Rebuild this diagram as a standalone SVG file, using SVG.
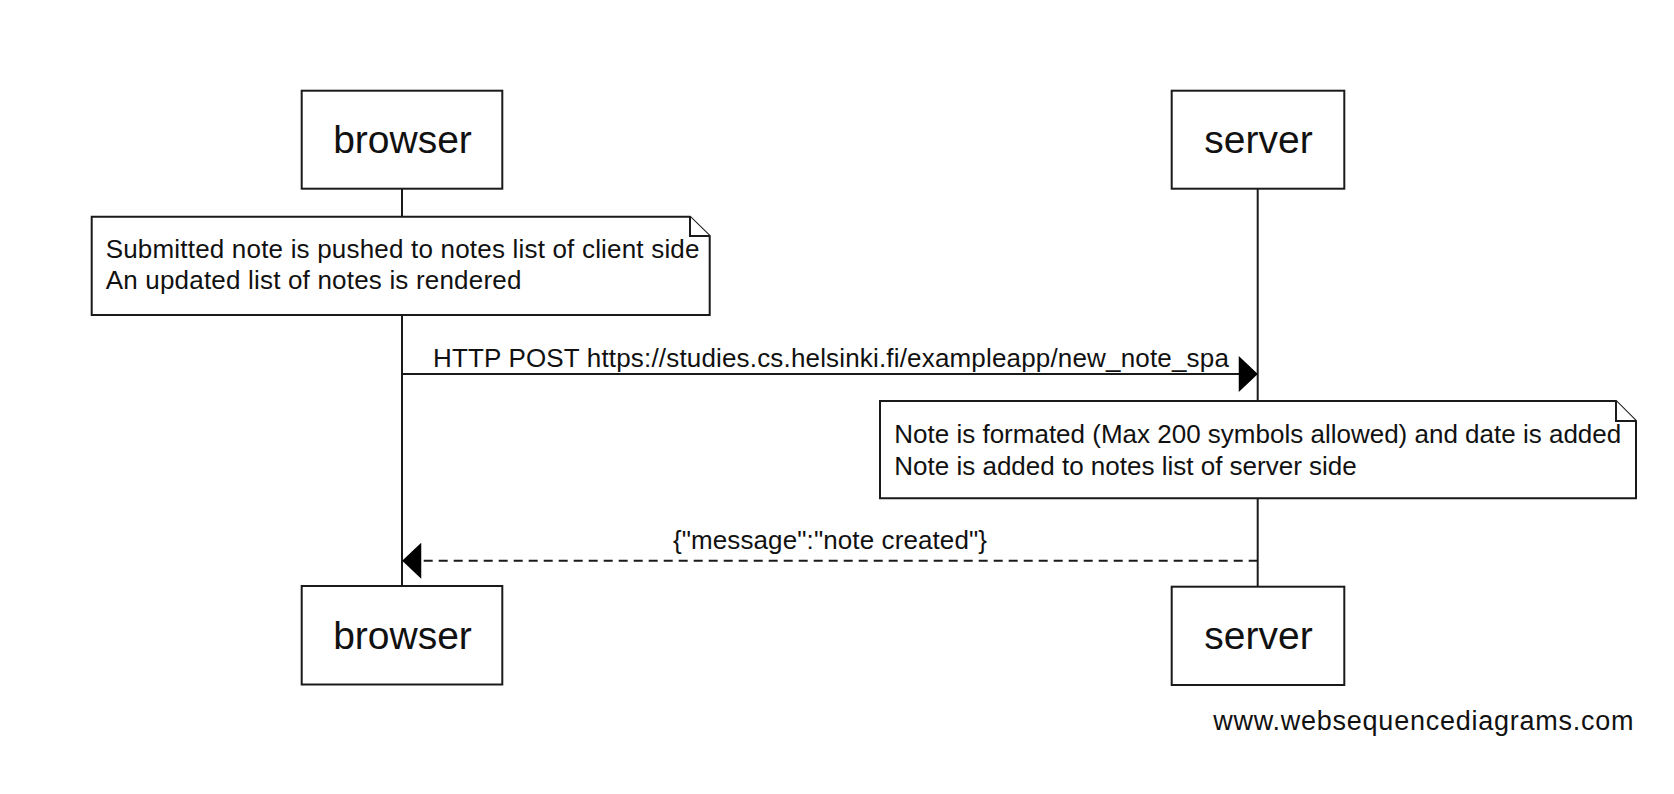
<svg xmlns="http://www.w3.org/2000/svg" width="1674" height="794" viewBox="0 0 1674 794">
<style>
  .box { fill: #fff; stroke: #1a1a1a; stroke-width: 2; }
  .life { stroke: #1a1a1a; stroke-width: 2; fill: none; }
  .msg { stroke: #1a1a1a; stroke-width: 2; fill: none; }
  .dash { stroke-dasharray: 9 6; }
  .head { fill: #000; stroke: none; }
  .actor { font-family: "Liberation Sans", Arial, sans-serif; font-size: 39px; fill: #111; text-anchor: middle; }
  .txt { font-family: "Liberation Sans", Arial, sans-serif; font-size: 26px; fill: #111; }
  .wm { font-family: "Liberation Sans", Arial, sans-serif; font-size: 27px; fill: #111; letter-spacing: 0.75px; }
</style>
<defs>
  <marker id="arrow" markerUnits="userSpaceOnUse" markerWidth="20" markerHeight="36" viewBox="0 0 18 34" refX="17.5" refY="17" orient="auto">
    <path class="head" d="M0,0 L18,17 L0,34 Z"/>
  </marker>
</defs>
<rect width="1674" height="794" fill="#fff"/>

<g id="lifelines">
  <line class="life" x1="402" y1="188.7" x2="402" y2="586"/>
  <line class="life" x1="1257.7" y1="188.7" x2="1257.7" y2="586.7"/>
</g>

<g id="connectors">
  <line class="msg" x1="402" y1="374" x2="1257.3" y2="374" marker-end="url(#arrow)"/>
  <text class="txt" x="831" y="367.3" text-anchor="middle" letter-spacing="0.17">HTTP POST https://studies.cs.helsinki.fi/exampleapp/new_note_spa</text>
  <line class="msg dash" x1="1257.7" y1="560.7" x2="402.7" y2="560.7" marker-end="url(#arrow)"/>
  <text class="txt" x="830" y="549" text-anchor="middle" letter-spacing="0.1">{"message":"note created"}</text>
</g>

<g id="browser-top">
  <rect class="box" x="301.7" y="90.7" width="200.6" height="98"/>
  <text class="actor" x="402.5" y="153">browser</text>
</g>
<g id="server-top">
  <rect class="box" x="1171.7" y="90.7" width="172.6" height="98"/>
  <text class="actor" x="1258.5" y="153">server</text>
</g>

<g id="note-client">
  <path class="box" d="M91.7,216.7 H690 L709.7,236 V315 H91.7 Z"/>
  <path class="box" d="M690,216.7 V236 H709.7"/>
  <text class="txt" x="105.7" y="257.5" letter-spacing="0.19">Submitted note is pushed to notes list of client side</text>
  <text class="txt" x="105.7" y="289" letter-spacing="0.19">An updated list of notes is rendered</text>
</g>

<g id="note-server">
  <path class="box" d="M880,401 H1616 L1636,421 V498.3 H880 Z"/>
  <path class="box" d="M1616,401 V421 H1636"/>
  <text class="txt" x="894.3" y="443.3">Note is formated (Max 200 symbols allowed) and date is added</text>
  <text class="txt" x="894.3" y="474.5">Note is added to notes list of server side</text>
</g>

<g id="browser-bottom">
  <rect class="box" x="301.7" y="586" width="200.6" height="98.5"/>
  <text class="actor" x="402.5" y="648.6">browser</text>
</g>
<g id="server-bottom">
  <rect class="box" x="1171.7" y="586.7" width="172.6" height="98.3"/>
  <text class="actor" x="1258.5" y="648.6">server</text>
</g>

<text class="wm" x="1213.3" y="730">www.websequencediagrams.com</text>
</svg>
